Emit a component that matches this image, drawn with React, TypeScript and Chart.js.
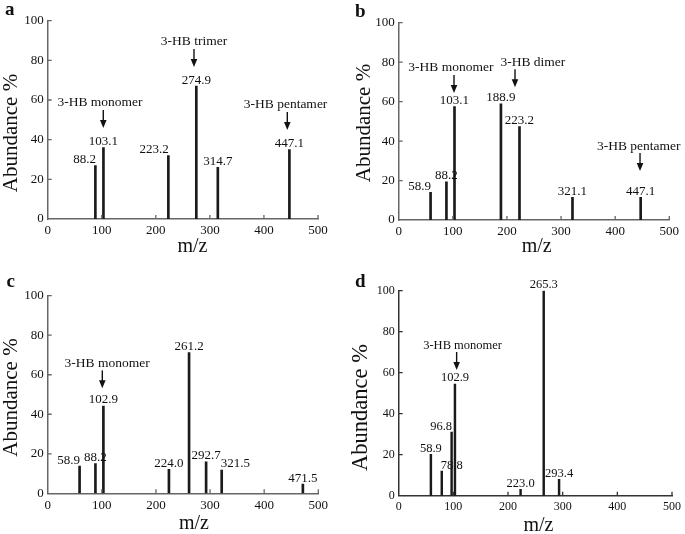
import React, { useEffect, useRef } from 'react';
import { Chart, registerables } from 'chart.js';

Chart.register(...registerables);

const FONT = "'Liberation Serif', 'Times New Roman', Times, serif";

// ---- Panel a ----
const aMz = [88.2, 103.1, 223.2, 274.9, 314.7, 447.1];
const aAbundance = [27, 36, 32, 67, 26, 35];
const aLabelAlign = ['r', 'c', 'r', 'c', 'c', 'c'];
const aNoteText = ['3-HB monomer', '3-HB trimer', '3-HB pentamer'];
const aNoteArrowX = [102.8, 270.6, 443.2];
const aNoteTipY = [45.9, 76.7, 44.9];
const aNoteTextX = [96.7, 270.6, 440];

// ---- Panel b ----
const bMz = [58.9, 88.2, 103.1, 188.9, 223.2, 321.1, 447.1];
const bAbundance = [14, 19.4, 57.5, 58.9, 47.3, 11.5, 11.5];
const bLabelAlign = ['r', 'c', 'c', 'c', 'c', 'c', 'c'];
const bNoteText = ['3-HB monomer', '3-HB dimer', '3-HB pentamer'];
const bNoteArrowX = [102.2, 214.9, 445.9];
const bNoteTipY = [64.4, 67.3, 24.8];
const bNoteTextX = [96.3, 248, 443.6];

// ---- Panel c ----
const cMz = [58.9, 88.2, 102.9, 224.0, 261.2, 292.7, 321.5, 471.5];
const cAbundance = [13.8, 15, 44.2, 12.1, 71.2, 15.9, 11.8, 4.7];
const cLabelAlign = ['r', 'c', 'c', 'c', 'c', 'c', 'l', 'c'];
const cNoteText = ['3-HB monomer'];
const cNoteArrowX = [100.9];
const cNoteTipY = [53.1];
const cNoteTextX = [109.9];

// ---- Panel d ----
const dMz = [58.9, 78.8, 96.8, 102.9, 223.0, 265.3, 293.4];
const dAbundance = [20.2, 12, 31, 54.5, 3.1, 100, 8];
const dLabelAlign = ['c', 'l', 'r', 'c', 'c', 'c', 'c'];
const dNoteText = ['3-HB monomer'];
const dNoteArrowX = [106];
const dNoteTipY = [61.3];
const dNoteTextX = [116.9];

// axes
const xMin = 0;
const xMax = 500;
const xStep = 100;
const yMin = 0;
const yMax = 100;
const yStep = 20;
const xTitle = 'm/z';
const yTitle = 'Abundance %';

interface PanelCfg {
  letter: string;
  mz: number[];
  ab: number[];
  align: string[];
  noteText: string[];
  noteArrowX: number[];
  noteTipY: number[];
  noteTextX: number[];
  box: { left: number; top: number; width: number; height: number };
  plot: { left: number; top: number; right: number; bottom: number };
  yTitlePos: [number, number];
  xTitlePos: [number, number];
  letterPos: [number, number];
  tickFont: number;
  labelFont: number;
  noteFont: number;
  yTitleFont: number;
  barW: number;
  axisColor: string;
}

const panels: PanelCfg[] = [
  {
    letter: 'a', mz: aMz, ab: aAbundance, align: aLabelAlign,
    noteText: aNoteText, noteArrowX: aNoteArrowX, noteTipY: aNoteTipY, noteTextX: aNoteTextX,
    box: { left: 0, top: 0, width: 342, height: 267 },
    plot: { left: 47.7, top: 20.7, right: 318, bottom: 219 },
    yTitlePos: [11, 133], xTitlePos: [192.5, 246.5], letterPos: [5, 15],
    tickFont: 13, labelFont: 13, noteFont: 13.5, yTitleFont: 21, barW: 2, axisColor: '#666',
  },
  {
    letter: 'b', mz: bMz, ab: bAbundance, align: bLabelAlign,
    noteText: bNoteText, noteArrowX: bNoteArrowX, noteTipY: bNoteTipY, noteTextX: bNoteTextX,
    box: { left: 342, top: 0, width: 343, height: 267 },
    plot: { left: 398.7, top: 22.7, right: 669.3, bottom: 220 },
    yTitlePos: [364, 123], xTitlePos: [536.7, 247], letterPos: [355, 16.5],
    tickFont: 13, labelFont: 13, noteFont: 13.5, yTitleFont: 21, barW: 2, axisColor: '#666',
  },
  {
    letter: 'c', mz: cMz, ab: cAbundance, align: cLabelAlign,
    noteText: cNoteText, noteArrowX: cNoteArrowX, noteTipY: cNoteTipY, noteTextX: cNoteTextX,
    box: { left: 0, top: 267, width: 342, height: 267 },
    plot: { left: 47.7, top: 295.7, right: 318.3, bottom: 493.3 },
    yTitlePos: [11, 397.5], xTitlePos: [194, 524], letterPos: [6.5, 286.5],
    tickFont: 13, labelFont: 13, noteFont: 13.5, yTitleFont: 21, barW: 2, axisColor: '#666',
  },
  {
    letter: 'd', mz: dMz, ab: dAbundance, align: dLabelAlign,
    noteText: dNoteText, noteArrowX: dNoteArrowX, noteTipY: dNoteTipY, noteTextX: dNoteTextX,
    box: { left: 342, top: 267, width: 343, height: 267 },
    plot: { left: 398.7, top: 290.7, right: 675, bottom: 495.7 },
    yTitlePos: [361, 407.5], xTitlePos: [538.5, 525.5], letterPos: [355, 286.5],
    tickFont: 12, labelFont: 12.5, noteFont: 12.5, yTitleFont: 22.5, barW: 1.8, axisColor: '#333',
  },
];

function makeDecor(cfg: PanelCfg) {
  return {
    id: 'decor_' + cfg.letter,
    afterDraw(chart: any) {
      const ctx: CanvasRenderingContext2D = chart.ctx;
      const xs = chart.scales.x;
      const ys = chart.scales.y;
      const area = chart.chartArea;
      const ox = cfg.box.left;
      const oy = cfg.box.top;
      ctx.save();

      // inside tick marks
      ctx.strokeStyle = cfg.axisColor;
      ctx.lineWidth = 1.3;
      ctx.beginPath();
      xs.ticks.forEach((t: any) => {
        const px = xs.getPixelForValue(t.value);
        if (px <= area.left + 1) return;
        ctx.moveTo(px, area.bottom);
        ctx.lineTo(px, area.bottom - 4);
      });
      ys.ticks.forEach((t: any) => {
        const py = ys.getPixelForValue(t.value);
        if (py >= area.bottom - 1) return;
        ctx.moveTo(area.left, py);
        ctx.lineTo(area.left + 4, py);
      });
      ctx.stroke();

      // peak labels
      ctx.fillStyle = '#111';
      ctx.font = `${cfg.labelFont}px ${FONT}`;
      ctx.textBaseline = 'alphabetic';
      const meta = chart.getDatasetMeta(0);
      meta.data.forEach((el: any, i: number) => {
        const a = cfg.align[i];
        let x = el.x;
        if (a === 'r') { ctx.textAlign = 'right'; x = el.x + 0.5; }
        else if (a === 'l') { ctx.textAlign = 'left'; x = el.x - 1; }
        else { ctx.textAlign = 'center'; }
        ctx.fillText(cfg.mz[i].toFixed(1), x, el.y - 2.5);
      });

      // annotations with arrows
      cfg.noteText.forEach((txt, i) => {
        const ax = xs.getPixelForValue(cfg.noteArrowX[i]);
        const tip = ys.getPixelForValue(cfg.noteTipY[i]);
        const top = tip - 18;
        ctx.strokeStyle = '#111';
        ctx.lineWidth = 1.4;
        ctx.beginPath();
        ctx.moveTo(ax, top);
        ctx.lineTo(ax, tip - 6);
        ctx.stroke();
        ctx.fillStyle = '#111';
        ctx.beginPath();
        ctx.moveTo(ax - 3.3, tip - 8);
        ctx.lineTo(ax + 3.3, tip - 8);
        ctx.lineTo(ax, tip);
        ctx.closePath();
        ctx.fill();
        ctx.font = `${cfg.noteFont}px ${FONT}`;
        ctx.textAlign = 'center';
        ctx.textBaseline = 'alphabetic';
        ctx.fillText(txt, xs.getPixelForValue(cfg.noteTextX[i]), top - 3.5);
      });

      // axis titles
      ctx.fillStyle = '#111';
      ctx.font = `${cfg.yTitleFont}px ${FONT}`;
      ctx.textAlign = 'center';
      ctx.textBaseline = 'middle';
      ctx.save();
      ctx.translate(cfg.yTitlePos[0] - ox, cfg.yTitlePos[1] - oy);
      ctx.rotate(-Math.PI / 2);
      ctx.fillText(yTitle, 0, 0);
      ctx.restore();

      ctx.font = `20px ${FONT}`;
      ctx.fillText(xTitle, cfg.xTitlePos[0] - ox, cfg.xTitlePos[1] - oy);

      // panel letter
      ctx.font = `bold 19px ${FONT}`;
      ctx.textAlign = 'left';
      ctx.textBaseline = 'alphabetic';
      ctx.fillText(cfg.letter, cfg.letterPos[0] - ox, cfg.letterPos[1] - oy);

      ctx.restore();
    },
  };
}

function Panel({ cfg }: { cfg: PanelCfg }) {
  const ref = useRef<HTMLCanvasElement | null>(null);
  useEffect(() => {
    if (!ref.current) return;
    const { box, plot } = cfg;
    const yAxisW = plot.left - box.left;
    const xAxisH = box.top + box.height - plot.bottom;
    const padTop = plot.top - box.top;
    const padRight = box.left + box.width - plot.right;
    const tickFont = { family: FONT, size: cfg.tickFont };
    const chart = new Chart(ref.current, {
      type: 'bar',
      data: {
        datasets: [
          {
            data: cfg.mz.map((x, i) => ({ x, y: cfg.ab[i] })),
            backgroundColor: '#1a1a1a',
            borderWidth: 0,
            barThickness: cfg.barW,
          },
        ],
      },
      options: {
        animation: false,
        responsive: false,
        layout: { padding: { left: 0, top: padTop, right: padRight, bottom: 0 } },
        plugins: { legend: { display: false }, tooltip: { enabled: false } },
        scales: {
          x: {
            type: 'linear',
            min: xMin,
            max: xMax,
            offset: false,
            ticks: { stepSize: xStep, color: '#111', font: tickFont, padding: 4, maxRotation: 0, autoSkip: false },
            grid: { display: false, drawTicks: false },
            border: { display: true, color: cfg.axisColor, width: 1.5 },
            afterFit: (s: any) => { s.height = xAxisH; },
          },
          y: {
            type: 'linear',
            min: yMin,
            max: yMax,
            ticks: { stepSize: yStep, color: '#111', font: tickFont, padding: 4 },
            grid: { display: false, drawTicks: false },
            border: { display: true, color: cfg.axisColor, width: 1.5 },
            afterFit: (s: any) => { s.width = yAxisW; },
          },
        },
      } as any,
      plugins: [makeDecor(cfg)],
    });
    return () => chart.destroy();
  }, [cfg]);
  return (
    <canvas
      ref={ref}
      width={cfg.box.width}
      height={cfg.box.height}
      style={{
        position: 'absolute',
        left: cfg.box.left,
        top: cfg.box.top,
        width: cfg.box.width,
        height: cfg.box.height,
        display: 'block',
      }}
    />
  );
}

export default function App() {
  return (
    <div
      style={{
        position: 'absolute',
        left: 0,
        top: 0,
        width: 685,
        height: 534,
        background: '#fff',
        overflow: 'hidden',
      }}
    >
      {panels.map((p) => (
        <Panel key={p.letter} cfg={p} />
      ))}
    </div>
  );
}
